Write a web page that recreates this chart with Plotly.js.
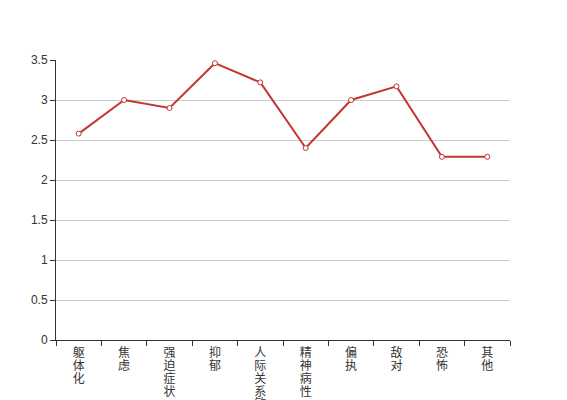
<!DOCTYPE html>
<html>
<head>
<meta charset="utf-8">
<script src="https://cdn.plot.ly/plotly-3.0.1.min.js"></script>
<style>html,body{margin:0;padding:0;background:#fff;}</style>
</head>
<body>
<div id="chart" style="width:567px;height:400px;"></div>
<script>
var categories = ["躯体化", "焦虑", "强迫症状", "抑郁", "人际关系敏感", "精神病性", "偏执", "敌对", "恐怖", "其他"];
var values = [2.58, 3.0, 2.9, 3.46, 3.22, 2.4, 3.0, 3.17, 2.29, 2.29];
var yTicks = [0, 0.5, 1, 1.5, 2, 2.5, 3, 3.5];
var yTickLabels = ["0", "0.5", "1", "1.5", "2", "2.5", "3", "3.5"];

var stacked = categories.map(function (c) { return c.split("").join("<br>"); });

var trace = {
  x: stacked,
  y: values,
  type: "scatter",
  mode: "lines+markers",
  line: { color: "#c23531", width: 2 },
  marker: { size: 5, color: "#ffffff", line: { color: "#c23531", width: 1 } },
  hoverinfo: "x+y"
};

var layout = {
  width: 567,
  height: 400,
  margin: { l: 56, r: 57, t: 60, b: 60 },
  paper_bgcolor: "#ffffff",
  plot_bgcolor: "#ffffff",
  showlegend: false,
  font: { family: "Helvetica, Arial, 'Noto Sans CJK SC', sans-serif", size: 12, color: "#333" },
  xaxis: {
    type: "category",
    range: [-0.5, 9.5],
    tickson: "boundaries",
    ticks: "outside",
    ticklen: 5,
    tickcolor: "#333",
    showgrid: false,
    showline: true,
    linecolor: "#333",
    linewidth: 1,
    zeroline: false,
    tickangle: 0,
    ticklabelstandoff: 2,
    tickfont: { family: "'Noto Sans CJK SC', sans-serif", size: 12, color: "#333" }
  },
  yaxis: {
    range: [0, 3.5],
    tickvals: yTicks,
    ticktext: yTickLabels,
    ticks: "outside",
    ticklen: 5,
    tickcolor: "#333",
    showline: true,
    linecolor: "#333",
    linewidth: 1,
    showgrid: true,
    gridcolor: "#cccccc",
    gridwidth: 1,
    zeroline: false,
    tickfont: { family: "Helvetica, Arial, sans-serif", size: 12, color: "#333" }
  }
};

function tightenLines() {
  var spans = document.querySelectorAll("#chart .xtick text tspan.line");
  spans.forEach(function (s) {
    var dy = s.getAttribute("dy");
    if (dy && dy.indexOf("em") > 0) {
      var v = parseFloat(dy);
      s.setAttribute("dy", (v / 1.3 * 1.06) + "em");
    }
  });
}

Plotly.newPlot("chart", [trace], layout, { displayModeBar: false, staticPlot: true }).then(tightenLines);
</script>
</body>
</html>
